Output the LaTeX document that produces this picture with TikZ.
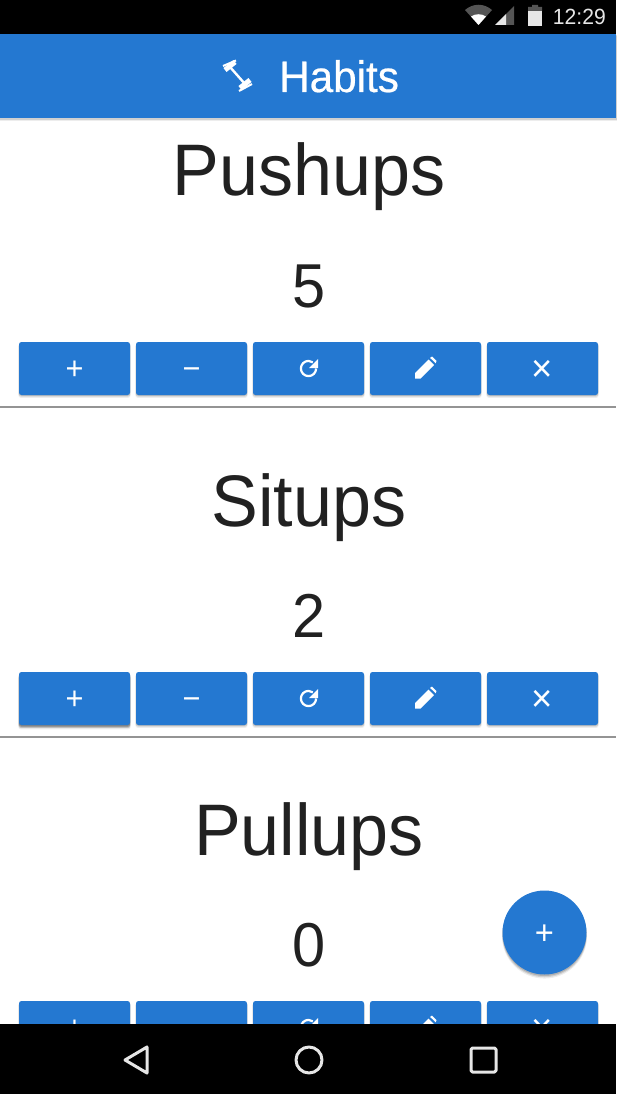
\documentclass[tikz,border=0pt]{standalone}
\usepackage{fontspec}
\setmainfont[FakeStretch=0.96]{Liberation Sans}
\newfontfamily\hmedium[FakeStretch=0.96, FakeBold=0.5]{Liberation Sans}
\usepackage{xcolor}
\usetikzlibrary{positioning, shadows}
\definecolor{hblue}{HTML}{2478D1}
\definecolor{hink}{HTML}{212121}
\definecolor{hsoft}{HTML}{E6E6E6}
\definecolor{hdim}{HTML}{555555}
\tikzset{
  softdrop/.style={
    general shadow={shadow xshift=0pt, shadow yshift=-#1-1pt, shadow scale=1.012, opacity=0.07, fill=black},
    general shadow={shadow xshift=0pt, shadow yshift=-#1, shadow scale=1.006, opacity=0.12, fill=black},
    general shadow={shadow xshift=0pt, shadow yshift=-#1+1pt, opacity=0.15, fill=black}
  },
  hbtn/.style={
    rectangle, rounded corners=2.5pt, outer sep=0pt,
    fill=hblue, text=white, inner sep=0pt,
    minimum width=111pt, minimum height=53pt,
    font=\fontsize{32}{34}\selectfont, text height=22pt, text depth=0pt,
    softdrop=1.5pt
  },
  hdel/.style={font=\fontsize{38}{40}\selectfont, text height=26pt},
  htitle/.style={text=hink, inner sep=0pt, anchor=base, font=\fontsize{73}{80}\selectfont},
  hcount/.style={text=hink, inner sep=0pt, anchor=base, font=\fontsize{62}{70}\selectfont},
  hrule/.style={draw=black!42, line width=1.2pt},
  navicon/.style={draw=hsoft, line width=3pt, line join=round},
  refresh/.pic={
    \draw[white, line width=2.2pt] (7.6,0) arc[start angle=0, delta angle=-305, radius=7.6pt];
    \fill[white] (9.5,-9.5) -- (9.5,-0.5) -- (0.5,-0.5) -- cycle;
  },
  pencil/.pic={
    \fill[white] (-10.5,10) -- (-10.5,4.5) -- (3,-9) -- (8.5,-3.5) -- (-5,10) -- cycle;
    \fill[white] (4.6,-10.6) -- (6.5,-12) -- (11,-7.5) -- (10.2,-5.2) -- cycle;
  },
}
\begin{document}
\begin{tikzpicture}[x=1pt, y=-1pt]
  \useasboundingbox (0,0) rectangle (616,1094);

  \node[htitle] (pushups) at (309,196) {Pushups};
  \node[hcount, below=111pt of pushups.base, anchor=base] (count1) {5};
  \node[hbtn] (add1) at (74.5,368.5) {+};
  \node[hbtn, right=6pt of add1] (sub1) {−};
  \node[hbtn, right=6pt of sub1] (reset1) {};
  \node[hbtn, right=6pt of reset1] (edit1) {};
  \node[hbtn, hdel, right=6pt of edit1] (del1) {×};
  \pic at (reset1) {refresh};
  \pic at (edit1) {pencil};
  \draw[hrule] (0,407) -- (616,407);

  \node[htitle] (situps) at (309,526) {Situps};
  \node[hcount, below=111pt of situps.base, anchor=base] (count2) {2};
  \node[hbtn, softdrop=3pt] (add2) at (74.5,698.5) {+};
  \node[hbtn, right=6pt of add2] (sub2) {−};
  \node[hbtn, right=6pt of sub2] (reset2) {};
  \node[hbtn, right=6pt of reset2] (edit2) {};
  \node[hbtn, hdel, right=6pt of edit2] (del2) {×};
  \pic at (reset2) {refresh};
  \pic at (edit2) {pencil};
  \draw[hrule] (0,737) -- (616,737);

  \node[htitle] (pullups) at (309,855) {Pullups};
  \node[hcount, below=111pt of pullups.base, anchor=base] (count3) {0};
  \node[hbtn] (add3) at (74.5,1027.5) {+};
  \node[hbtn, right=6pt of add3] (sub3) {−};
  \node[hbtn, right=6pt of sub3] (reset3) {};
  \node[hbtn, right=6pt of reset3] (edit3) {};
  \node[hbtn, hdel, right=6pt of edit3] (del3) {×};
  \pic at (reset3) {refresh};
  \pic at (edit3) {pencil};

  \node[circle, fill=hblue, text=white, minimum size=84pt, inner sep=0pt, outer sep=0pt,
    font=\fontsize{34}{36}\selectfont, text height=23pt, text depth=0pt,
    softdrop=2.5pt] (fab) at (544.5,932.5) {+};

  \fill[hblue, softdrop=1.5pt] (0,34) rectangle (616,118);
  \node[text=white, inner sep=0pt, anchor=base west, font=\hmedium\fontsize{44}{48}\selectfont] (habits) at (279,92) {Habits};
  \draw[white, line width=2.4pt] (230,67) -- (245,84);
  \draw[white, line width=5pt] (225,70) -- (235,62);
  \draw[white, line width=2pt] (223,66) -- (236,60.5);
  \draw[white, line width=5pt] (240,88) -- (250,80);
  \draw[white, line width=2pt] (239,91) -- (252,84);

  \fill[black] (0,0) rectangle (616,34);
  \fill[hdim] (478.5,25) -- (465,10) .. controls (473,3) and (484,3) .. (492,10) -- cycle;
  \fill[white] (478.5,25) -- (471,16.5) .. controls (475,13.5) and (482,13.5) .. (486,16.5) -- cycle;
  \fill[hdim] (495,25) -- (514,6) -- (514,25) -- cycle;
  \fill[hsoft] (495,25) -- (506,14) -- (506,25) -- cycle;
  \fill[hdim] (532,5) rectangle (538,8) (528,7) rectangle (542,11);
  \fill[hsoft] (528,11) rectangle (542,26);
  \node[text=hsoft, inner sep=0pt, anchor=base east, font=\fontsize{22}{25}\selectfont] (clock) at (606,25) {12:29};

  \fill[black] (0,1024) rectangle (616,1094);
  \draw[navicon] (147,1047) -- (125,1060) -- (147,1073) -- cycle;
  \draw[navicon] (309,1060) circle[radius=13pt];
  \draw[navicon, rounded corners=1.5pt] (471,1048) rectangle (496,1072);
\end{tikzpicture}
\end{document}
